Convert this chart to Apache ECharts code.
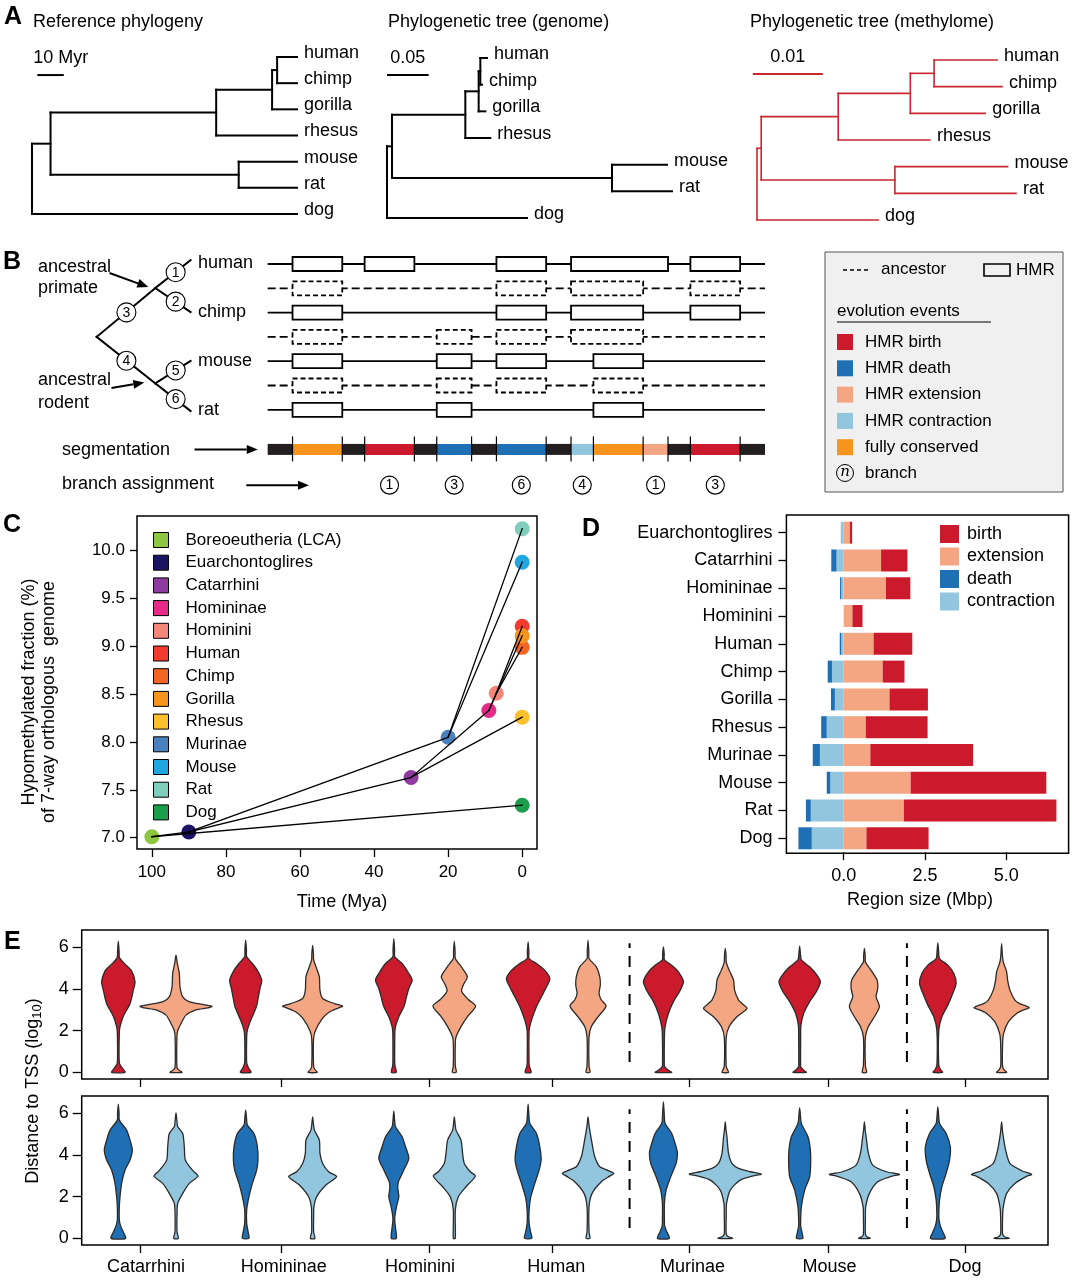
<!DOCTYPE html>
<html><head><meta charset="utf-8">
<script src="https://cdn.jsdelivr.net/npm/echarts@6.0.0/dist/echarts.min.js"></script>
<style>html,body{margin:0;padding:0;background:#fff}#c{width:1073px;height:1280px}</style>
</head><body><div id="c"></div>
<script>
// ================= DATA =================
// ---- Panel A: phylogenies (same topology, three branch-length sets) ----
const treeTips = ['human','chimp','gorilla','rhesus','mouse','rat','dog'];
const treeEdges = [['root','boreo'],['root','dog'],['boreo','primates'],['boreo','rodents'],['primates','apes'],['primates','rhesus'],['apes','hc'],['apes','gorilla'],['hc','human'],['hc','chimp'],['rodents','mouse'],['rodents','rat']];
const refBranchMyr   = [7, 100, 62.5, 71, 21.1, 30.5, 1.9, 9.4, 7.5, 7.5, 22, 22];
const genomeBranch   = [0.006, 0.168, 0.088, 0.264, 0.016, 0.030, 0.002, 0.008, 0.008, 0.002, 0.066, 0.072];
const methylomeBranch= [0.0006, 0.0173, 0.011, 0.0191, 0.0103, 0.0131, 0.0034, 0.0107, 0.009, 0.0097, 0.0161, 0.0173];
const scaleBarLengths = [10, 0.05, 0.01];
const scaleBarLabels  = ['10 Myr', '0.05', '0.01'];
const treeTitles = ['Reference phylogeny', 'Phylogenetic tree (genome)', 'Phylogenetic tree (methylome)'];

// ---- Panel B: schematic ----
const bRowLabels = ['human','ancestor','chimp','ancestor','mouse','ancestor','rat'];
const bRowIsAncestor = [0,1,0,1,0,1,0];
const bHMRs = [ // [row, start, end]
  [0,5,15],[0,19.5,29.5],[0,46,56],[0,61,80.5],[0,85,95],
  [1,5,15],[1,46,56],[1,61,75.5],[1,85,95],
  [2,5,15],[2,46,56],[2,61,75.5],[2,85,95],
  [3,5,15],[3,34,41],[3,46,56],[3,61,75.5],
  [4,5,15],[4,34,41],[4,46,56],[4,65.5,75.5],
  [5,5,15],[5,34,41],[5,46,56],[5,65.5,75.5],
  [6,5,15],[6,34,41],[6,65.5,75.5]];
const segBounds = [0,5,15,19.5,29.5,34,41,46,56,61,65.5,75.5,80.5,85,95,100];
const segClass  = ['none','conserved','none','birth','none','death','none','death','none','contraction','conserved','extension','none','birth','none'];
const branchAssign = [[24.5,1],[37.5,3],[51,6],[63.25,4],[78,1],[90,3]];
const schemNodes = {root:[-34.4,3.0], P:[-22.6,0.99], R:[-22.6,4.91], human:[-15.5,-0.16], chimp:[-15.5,1.98], mouse:[-15.5,3.99], rat:[-15.5,6.05]};
const schemEdges = [['root','P'],['P','human'],['P','chimp'],['root','R'],['R','mouse'],['R','rat']];
const schemBranches = [[-18.5,0.34,1],[-18.5,1.55,2],[-28.4,1.99,3],[-28.4,3.98,4],[-18.5,4.38,5],[-18.5,5.56,6]];
const bArrows = [[-31.8,0.37,-24.0,0.95],[-31.4,5.1,-24.8,4.88],[-14.7,7.63,-2.0,7.63],[-4.3,9.1,8.3,9.1]];
const bLegendEvents = ['HMR birth','HMR death','HMR extension','HMR contraction','fully conserved'];

// ---- Panel C ----
const cNodes = ['Boreoeutheria (LCA)','Euarchontoglires','Catarrhini','Homininae','Hominini','Human','Chimp','Gorilla','Rhesus','Murinae','Mouse','Rat','Dog'];
const cTime = [100, 90, 30, 9, 7, 0, 0, 0, 0, 20, 0, 0, 0];
const cFraction = [7.01, 7.06, 7.63, 8.33, 8.51, 9.21, 8.99, 9.11, 8.26, 8.05, 9.88, 10.23, 7.34];
const cEdges = [[0,1],[0,12],[1,2],[1,9],[2,8],[2,3],[3,7],[3,4],[4,5],[4,6],[9,10],[9,11]];
const cTicksX = [0,20,40,60,80,100];
const cTicksY = [7,7.5,8,8.5,9,9.5,10];

// ---- Panel D ----
const dClades = ['Euarchontoglires','Catarrhini','Homininae','Hominini','Human','Chimp','Gorilla','Rhesus','Murinae','Mouse','Rat','Dog'];
const dBirth       = [0.07, 0.81, 0.75, 0.31, 1.19, 0.67, 1.18, 1.90, 3.16, 4.17, 4.69, 1.91];
const dExtension   = [0.19, 1.15, 1.30, 0.27, 0.92, 1.20, 1.41, 0.68, 0.82, 2.06, 1.85, 0.70];
const dDeath       = [0.00, 0.16, 0.04, 0.00, 0.05, 0.13, 0.12, 0.17, 0.22, 0.11, 0.15, 0.41];
const dContraction = [0.09, 0.22, 0.07, 0.00, 0.07, 0.36, 0.27, 0.52, 0.73, 0.41, 1.01, 0.98];
const dTicksX = [0, 2.5, 5];

// ---- Panel E: violin density profiles [log10 distance, half-width density] ----
const eClades = ['Catarrhini','Homininae','Hominini','Human','Murinae','Mouse','Dog'];
const eCladeTicks = [6.03, 20.7, 36.0, 48.7, 62.9, 77.3, 91.4];
const eCladeLabelPos = [6.65, 20.9, 35.0, 49.1, 63.2, 77.4, 91.4];
const eGainPos = [3.79, 16.97, 32.3, 46.2, 60.2, 74.3, 88.6];
const eShiftPos = [9.76, 23.9, 38.56, 52.4, 66.6, 81.0, 95.2];
const eDividers = [56.7, 85.4];
const eTicksY = [0,2,4,6];
const eBirthProfiles = [
 [[0,6.7],[0.2,4],[0.45,1],[1.9,1],[2.2,1.7],[2.7,5],[3.3,11.7],[3.95,15],[4.35,16.7],[4.9,13],[5.2,6.7],[5.5,1.2],[5.8,0.8],[6.3,0]],
 [[0,5.3],[0.2,3],[0.45,1],[1.7,1],[2.03,1.7],[2.5,5],[3.15,10.7],[3.63,12.7],[4.03,14.3],[4.43,16],[4.9,11.7],[5.23,6.7],[5.55,1],[5.9,0.8],[6.35,0]],
 [[0,2.5],[0.3,1.2],[0.5,0.9],[1.87,1],[2.2,1.7],[2.67,5],[3.15,10],[3.63,12.7],[4.03,15],[4.43,18.3],[4.75,15],[5.23,8.3],[5.55,1],[5.9,0.8],[6.43,0]],
 [[0,3],[0.3,1.2],[0.5,0.9],[2.0,1],[2.5,3.3],[3.15,8.3],[3.63,13.3],[4.1,18.3],[4.5,21.7],[4.9,16.7],[5.23,8.3],[5.47,1],[5.8,0.8],[6.27,0]],
 [[0,8.3],[0.1,5],[0.25,1.5],[0.35,0.9],[1.7,1],[2.2,1.7],[2.83,5],[3.4,10],[3.87,16],[4.35,20],[4.83,15],[5.15,8.3],[5.4,1],[5.7,0.8],[6.03,0]],
 [[0,6.7],[0.1,4],[0.25,1.2],[0.35,0.9],[1.7,1],[2.27,1.3],[2.83,4],[3.4,10],[3.87,16.7],[4.35,20.7],[4.67,17.3],[5.07,10],[5.4,1.7],[5.7,0.8],[6.06,0]],
 [[0,4.7],[0.15,2.5],[0.35,0.9],[2.03,1],[2.67,4],[3.23,10],[3.8,15],[4.27,18.3],[4.75,16],[5.15,10],[5.47,1.7],[5.8,0.8],[6.22,0]]
];
const eExtensionProfiles = [
 [[0,6],[0.12,2.5],[0.25,0.9],[1.7,0.9],[2.0,1.7],[2.35,5],[2.75,10],[3.0,20],[3.1,32],[3.17,36],[3.25,28],[3.4,13],[3.63,6.7],[4.1,4],[4.75,3.3],[5.2,1.5],[5.4,0.8],[5.63,0]],
 [[0,4.5],[0.15,2],[0.3,0.9],[1.6,0.9],[2.0,2.7],[2.6,10],[2.9,16.7],[3.1,26],[3.18,30],[3.3,22],[3.55,10],[3.95,7.3],[4.6,6.7],[5.07,3.3],[5.4,1],[5.7,0.8],[6.1,0]],
 [[0,2],[0.3,1],[1.4,1],[1.7,1.7],[2.2,6.7],[2.67,13],[3.18,21.3],[3.5,14],[3.9,7.3],[4.2,9],[4.6,13],[5.07,7],[5.47,1],[5.8,0.8],[6.3,0]],
 [[0,2],[0.3,1],[1.7,1],[2.2,3.3],[2.67,10],[3.18,18],[3.5,13],[3.8,11],[4.2,12.3],[4.6,11.7],[5.07,8.3],[5.47,1],[5.8,0.8],[6.35,0]],
 [[0,3.3],[0.15,2],[0.3,0.9],[1.7,1],[2.2,4],[2.67,11.7],[3.07,21.7],[3.3,17],[3.47,13.3],[3.95,9.3],[4.43,8.3],[4.9,4],[5.3,1],[5.6,0.8],[5.95,0]],
 [[0,2.2],[0.3,1],[1.7,1],[2.2,4],[2.67,10],[3.15,15],[3.63,11.7],[4.03,13.3],[4.43,12.7],[4.9,6.7],[5.3,1],[5.6,0.8],[5.95,0]],
 [[0,5],[0.12,2.5],[0.3,0.9],[1.4,1],[1.87,2],[2.43,6.7],[2.83,15],[3.0,22],[3.1,27.7],[3.2,24],[3.3,18],[3.47,13.3],[3.95,8.3],[4.43,6],[4.83,5],[5.3,1.7],[5.6,0.8],[6.19,0]]
];
const eDeathProfiles = [
 [[0,7.3],[0.3,5],[0.6,2.3],[0.88,1],[1.52,1],[2.0,1.7],[2.64,3.3],[3.28,6.7],[3.76,11.7],[4.24,14],[4.72,11.7],[5.2,8.3],[5.68,1],[6.0,0.8],[6.45,0]],
 [[0,3.3],[0.3,2.5],[0.72,1],[1.36,1],[2.0,3.3],[2.64,6.7],[3.28,11],[3.76,12.3],[4.4,11.7],[5.04,8.3],[5.44,1.7],[5.8,0.8],[6.16,0]],
 [[0,2.5],[0.4,2],[0.8,1],[1.04,1],[1.52,2.7],[2.0,5],[2.4,4],[2.7,4.5],[3.28,10],[3.84,15],[4.4,11.7],[4.88,8.3],[5.36,1.7],[5.7,0.8],[6.11,0]],
 [[0,3.7],[0.3,2.5],[0.72,1],[1.36,1],[2.0,2.7],[2.64,6.7],[3.28,11],[3.76,13],[4.4,11.7],[5.04,8.3],[5.52,1.7],[5.9,0.8],[6.45,0]],
 [[0,6],[0.3,3.5],[0.6,1.2],[0.88,1],[1.68,1],[2.32,2.7],[2.96,7.3],[3.6,12.7],[4.08,14],[4.4,12.7],[5.04,8.3],[5.52,1.7],[6.0,0.8],[6.56,0]],
 [[0,3.2],[0.3,2.2],[0.6,1],[0.88,1],[1.52,1.7],[2.32,5],[2.96,10],[3.6,11],[4.24,10.7],[4.88,8.3],[5.52,1.7],[5.9,0.8],[6.27,0]],
 [[0,7.3],[0.3,5],[0.6,2.5],[0.9,1.2],[1.2,1],[1.84,1.7],[2.48,4],[3.12,8.3],[3.76,11.7],[4.4,12.5],[5.04,8.3],[5.52,1.7],[5.9,0.8],[6.32,0]]
];
const eContractionProfiles = [
 [[0,2.3],[0.3,1],[1.2,1],[1.68,1.7],[2.16,6.7],[2.64,13.3],[2.99,22],[3.2,18],[3.36,15],[3.76,9.3],[4.4,8.3],[5.04,6.7],[5.36,1.7],[5.7,0.8],[6.03,0]],
 [[0,2.3],[0.3,1],[1.04,1],[1.52,1.3],[2.0,4],[2.56,13.3],[2.96,24],[3.2,16],[3.6,10],[4.08,7.3],[4.72,6.7],[5.2,1.7],[5.5,0.8],[5.84,0]],
 [[0,1],[1.36,1],[2.0,4],[2.48,11.7],[2.99,21],[3.2,16],[3.6,10],[4.08,8.3],[4.72,6.7],[5.2,1.7],[5.5,0.8],[5.84,0]],
 [[0,2],[0.3,1],[1.52,1],[2.16,4],[2.72,13.3],[3.0,22],[3.12,25.7],[3.3,18],[3.44,11.7],[3.92,6.7],[4.56,4],[5.2,1.7],[5.5,0.8],[5.84,0]],
 [[0,7.3],[0.08,3],[0.2,1],[1.2,1],[1.68,1.3],[2.32,5],[2.8,15],[3.0,28],[3.09,36],[3.2,25],[3.36,13.3],[3.6,6.7],[4.08,3.3],[4.88,1.7],[5.2,0.8],[5.6,0]],
 [[0,5.8],[0.08,2.5],[0.2,1],[1.04,1],[1.52,1.3],[2.16,5],[2.72,13.3],[2.98,27],[3.07,35],[3.2,22],[3.52,8.3],[4.08,4],[4.88,1.7],[5.2,0.8],[5.6,0]],
 [[0,7.5],[0.08,3],[0.2,1],[1.04,1],[1.52,1.7],[2.16,5],[2.64,13.3],[2.98,25],[3.07,30],[3.25,20],[3.6,8.3],[4.24,4],[4.88,1.7],[5.2,0.8],[5.6,0]]
];

// ================= STYLE =================
const FONT = '"Liberation Sans", Arial, Helvetica, sans-serif';
const COL = {birth:'#cb1a2c', extension:'#f4a582', death:'#1f6fb4', contraction:'#92c5de', conserved:'#f7941d', none:'#231f20'};
const cColors = ['#8dc63f','#1b1464','#8e3a9f','#e7298a','#f4877a','#f23b2f','#f26522','#f7941d','#fcc02c','#4a82bf','#1ea7e1','#7fcdbb','#1b9e4b'];
const METHYL_RED = '#c8282e';
const VIOLIN_UNIT = 0.1035;   // x-axis units per density unit (panel E)
const evColors = [COL.birth, COL.death, COL.extension, COL.contraction, COL.conserved];

// ================= HELPERS =================
function layoutTree(lengths) {
  const children = {}, len = {};
  treeEdges.forEach(([p, c], i) => { (children[p] = children[p] || []).push(c); len[c] = lengths[i]; });
  const X = { root: 0 }, Y = {};
  (function setX(n) { (children[n] || []).forEach(c => { X[c] = X[n] + len[c]; setX(c); }); })('root');
  (function setY(n) {
    if (!children[n]) return (Y[n] = treeTips.indexOf(n));
    const ys = children[n].map(setY);
    return (Y[n] = (Math.min(...ys) + Math.max(...ys)) / 2);
  })('root');
  const segs = [];
  Object.keys(children).forEach(n => {
    const ys = children[n].map(c => Y[c]);
    segs.push([X[n], Math.min(...ys), X[n], Math.max(...ys)]);
    children[n].forEach(c => segs.push([X[n], Y[c], X[c], Y[c]]));
  });
  return { segs, tips: treeTips.map(t => [X[t], Y[t]]) };
}
function txtStyle(text, size, align, extra) {
  return Object.assign({ text, fill: '#000', fontSize: size, fontFamily: FONT, align: align, verticalAlign: 'middle', textAlign: align, textVerticalAlign: 'middle' }, extra || {});
}
function segSeries(g, segs, color, width, z) {
  return { type: 'custom', xAxisIndex: g, yAxisIndex: g, data: segs, silent: true, z: z || 2,
    renderItem: (p, api) => {
      const a = api.coord([api.value(0), api.value(1)]), b = api.coord([api.value(2), api.value(3)]);
      return { type: 'line', shape: { x1: a[0], y1: a[1], x2: b[0], y2: b[1] }, style: { stroke: color, lineWidth: width, lineCap: 'square' } };
    } };
}
const treeLayouts = [layoutTree(refBranchMyr), layoutTree(genomeBranch), layoutTree(methylomeBranch)];
const treeColors = ['#000', '#000', METHYL_RED];
const scaleBarAnchor = [[2, 0.69], [0, 0.64], [-0.0006, 0.525]];   // layout
const scaleAlign = ['left', 'center', 'center'];

const series = [];
treeLayouts.forEach((t, g) => {
  series.push(segSeries(g, t.segs, treeColors[g], g === 2 ? 1.6 : 2));
  series.push({ type: 'custom', xAxisIndex: g, yAxisIndex: g, data: t.tips, silent: true,
    renderItem: (p, api) => {
      const c = api.coord([api.value(0), api.value(1)]);
      return { type: 'text', x: c[0] + 7, y: c[1] - 4, style: txtStyle(treeTips[p.dataIndex], 18, 'left') };
    } });
  series.push({ type: 'custom', xAxisIndex: g, yAxisIndex: g, data: [[scaleBarAnchor[g][0], scaleBarAnchor[g][1], scaleBarAnchor[g][0] + scaleBarLengths[g]]], silent: true,
    renderItem: (p, api) => {
      const a = api.coord([api.value(0), api.value(1)]), b = api.coord([api.value(2), api.value(1)]);
      const tx = scaleAlign[g] === 'left' ? a[0] - 4 : (a[0] + b[0]) / 2;
      return { type: 'group', children: [
        { type: 'line', shape: { x1: a[0], y1: a[1], x2: b[0], y2: b[1] }, style: { stroke: treeColors[g], lineWidth: 2 } },
        { type: 'text', x: tx, y: a[1] - 17, style: txtStyle(scaleBarLabels[g], 18, scaleAlign[g]) } ] };
    } });
});

// ---- Panel B series (grid 3) ----
series.push({ type: 'custom', xAxisIndex: 3, yAxisIndex: 3, silent: true, data: bRowIsAncestor.map((a, i) => [i, a]),
  renderItem: (p, api) => {
    const a = api.coord([0, api.value(0)]), b = api.coord([100, api.value(0)]);
    const st = { stroke: '#000', lineWidth: 1.8 }; if (api.value(1)) st.lineDash = [8, 4];
    return { type: 'line', shape: { x1: a[0], y1: a[1], x2: b[0], y2: b[1] }, style: st };
  } });
series.push({ type: 'custom', xAxisIndex: 3, yAxisIndex: 3, silent: true, z: 3, data: bHMRs,
  renderItem: (p, api) => {
    const r = bHMRs[p.dataIndex];
    const a = api.coord([r[1], r[0]]), b = api.coord([r[2], r[0]]);
    const st = { fill: '#fff', stroke: '#000', lineWidth: 1.8 }; if (bRowIsAncestor[r[0]]) st.lineDash = [5, 3];
    return { type: 'rect', shape: { x: a[0], y: a[1] - 7, width: b[0] - a[0], height: 14 }, style: st };
  } });
series.push({ type: 'custom', xAxisIndex: 3, yAxisIndex: 3, silent: true, data: segClass.map((c, i) => [segBounds[i], segBounds[i + 1]]),
  renderItem: (p, api) => {
    const a = api.coord([api.value(0), 7.63]), b = api.coord([api.value(1), 7.63]);
    return { type: 'rect', shape: { x: a[0], y: a[1] - 5.5, width: b[0] - a[0], height: 11 }, style: { fill: COL[segClass[p.dataIndex]] } };
  } });
series.push({ type: 'custom', xAxisIndex: 3, yAxisIndex: 3, silent: true, z: 3, data: segBounds.slice(1, -1).map(v => [v]),
  renderItem: (p, api) => {
    const a = api.coord([api.value(0), 7.63]);
    return { type: 'line', shape: { x1: a[0], y1: a[1] - 13, x2: a[0], y2: a[1] + 12 }, style: { stroke: '#000', lineWidth: 1.2 } };
  } });
series.push({ type: 'custom', xAxisIndex: 3, yAxisIndex: 3, silent: true, data: branchAssign,
  renderItem: (p, api) => {
    const a = api.coord([api.value(0), 9.1]);
    return { type: 'group', children: [
      { type: 'circle', shape: { cx: a[0], cy: a[1], r: 9 }, style: { fill: '#fff', stroke: '#000', lineWidth: 1.1 } },
      { type: 'text', x: a[0], y: a[1] + 0.5, style: txtStyle(String(api.value(1)), 14, 'center') } ] };
  } });
series.push(segSeries(3, schemEdges.map(([a, b]) => [schemNodes[a][0], schemNodes[a][1], schemNodes[b][0], schemNodes[b][1]]), '#000', 2));
series.push({ type: 'custom', xAxisIndex: 3, yAxisIndex: 3, silent: true, z: 4, data: schemBranches,
  renderItem: (p, api) => {
    const a = api.coord([api.value(0), api.value(1)]);
    return { type: 'group', children: [
      { type: 'circle', shape: { cx: a[0], cy: a[1], r: 9.5 }, style: { fill: '#fff', stroke: '#000', lineWidth: 1.1 } },
      { type: 'text', x: a[0], y: a[1] + 0.5, style: txtStyle(String(api.value(2)), 14, 'center') } ] };
  } });
series.push({ type: 'custom', xAxisIndex: 3, yAxisIndex: 3, silent: true, z: 4, data: bArrows,
  renderItem: (p, api) => {
    const a = api.coord([api.value(0), api.value(1)]), b = api.coord([api.value(2), api.value(3)]);
    const ang = Math.atan2(b[1] - a[1], b[0] - a[0]), L = 11, W = 4.5;
    const bx = b[0] - L * Math.cos(ang), by = b[1] - L * Math.sin(ang);
    const px = -Math.sin(ang) * W, py = Math.cos(ang) * W;
    return { type: 'group', children: [
      { type: 'line', shape: { x1: a[0], y1: a[1], x2: bx, y2: by }, style: { stroke: '#000', lineWidth: 2 } },
      { type: 'polygon', shape: { points: [[b[0], b[1]], [bx + px, by + py], [bx - px, by - py]] }, style: { fill: '#000' } } ] };
  } });

// ---- Panel C (grid 4) ----
cNodes.forEach((n, i) => series.push({ type: 'scatter', name: n, xAxisIndex: 4, yAxisIndex: 4, data: [[cTime[i], cFraction[i]]],
  symbolSize: 15, itemStyle: { color: cColors[i], opacity: 1 }, z: 2, silent: true }));
series.push(segSeries(4, cEdges.map(([a, b]) => [cTime[a], cFraction[a], cTime[b], cFraction[b]]), '#000', 1.3, 5));

// ---- Panel D (grid 5) ----
[['extension', dExtension, 1], ['birth', dBirth, 1], ['contraction', dContraction, -1], ['death', dDeath, -1]].forEach(([n, arr, s]) =>
  series.push({ type: 'bar', name: n, xAxisIndex: 5, yAxisIndex: 5, stack: 'd', barWidth: 22, silent: true,
    data: arr.map(v => s * v), itemStyle: { color: COL[n] } }));

// ---- Panel E (grids 6,7) ----
function violinSeries(g, positions, profiles, color) {
  return { type: 'custom', xAxisIndex: g, yAxisIndex: g, silent: true, data: positions.map((p, i) => [p, i]),
    renderItem: (p, api) => {
      const prof = profiles[p.dataIndex], cx = api.value(0);
      const pts = [];
      prof.forEach(([y, d]) => { const c = api.coord([cx, y]); pts.push([c[0] + api.size([d * VIOLIN_UNIT, 0])[0], c[1]]); });
      for (let k = prof.length - 1; k >= 0; k--) {
        const [y, d] = prof[k]; if (d === 0) continue;
        const c = api.coord([cx, y]); pts.push([c[0] - api.size([d * VIOLIN_UNIT, 0])[0], c[1]]);
      }
      return { type: 'polygon', shape: { points: pts, smooth: 0.25 }, style: { fill: color, stroke: '#2b2b2b', lineWidth: 1.3 } };
    } };
}
series.push(violinSeries(6, eGainPos, eBirthProfiles, COL.birth));
series.push(violinSeries(6, eShiftPos, eExtensionProfiles, COL.extension));
series.push(violinSeries(7, eGainPos, eDeathProfiles, COL.death));
series.push(violinSeries(7, eShiftPos, eContractionProfiles, COL.contraction));
[6, 7].forEach(g => series.push({ type: 'custom', xAxisIndex: g, yAxisIndex: g, silent: true, data: eDividers.map(v => [v, 0.5, 6.2]),
  renderItem: (p, api) => {
    const a = api.coord([api.value(0), api.value(1)]), b = api.coord([api.value(0), api.value(2)]);
    return { type: 'line', shape: { x1: a[0], y1: a[1], x2: b[0], y2: b[1] }, style: { stroke: '#000', lineWidth: 2, lineDash: [11, 8] } };
  } }));

// ================= AXES =================
const hid = (g, min, max, extra) => Object.assign({ gridIndex: g, type: 'value', min, max, show: false }, extra || {});
const lab = (size, margin, extra) => Object.assign({ fontSize: size, color: '#000', fontFamily: FONT, margin }, extra || {});
const tick = (len, vals) => { const t = { show: true, inside: false, length: len, lineStyle: { color: '#000', width: 1.3 } }; if (vals) t.customValues = vals; return t; };
const noLine = { show: false, onZero: false };
const xAxis = [
  hid(0, 0, 100), hid(1, 0, 0.36), hid(2, -0.001, 0.039), hid(3, -50, 100),
  { gridIndex: 4, type: 'value', min: -4, max: 104, inverse: true, axisLine: noLine, splitLine: { show: false },
    axisTick: tick(8, cTicksX), axisLabel: lab(17, 15, { customValues: cTicksX }) },
  { gridIndex: 5, type: 'value', min: -1.76, max: 6.915, axisLine: noLine, splitLine: { show: false },
    axisTick: tick(8, dTicksX), axisLabel: lab(18, 15, { customValues: dTicksX, formatter: v => v.toFixed(1) }) },
  { gridIndex: 6, type: 'value', min: 0, max: 100, axisLine: noLine, splitLine: { show: false },
    axisTick: tick(8, eCladeTicks), axisLabel: { show: false } },
  { gridIndex: 7, type: 'value', min: 0, max: 100, axisLine: noLine, splitLine: { show: false },
    axisTick: tick(8, eCladeTicks), axisLabel: lab(18, 13, { customValues: eCladeLabelPos,
      formatter: v => { let bi = 0; eCladeLabelPos.forEach((t, i) => { if (Math.abs(t - v) < Math.abs(eCladeLabelPos[bi] - v)) bi = i; }); return eClades[bi]; } }) }
];
const yAxis = [
  hid(0, 0, 6, { inverse: true }), hid(1, 0, 6, { inverse: true }), hid(2, 0, 6, { inverse: true }), hid(3, -1, 10, { inverse: true }),
  { gridIndex: 4, type: 'value', min: 6.882, max: 10.363, axisLine: noLine, splitLine: { show: false },
    axisTick: tick(7, cTicksY), axisLabel: lab(17, 12, { customValues: cTicksY, formatter: v => v.toFixed(1) }) },
  { gridIndex: 5, type: 'category', data: dClades, inverse: true, axisLine: noLine,
    axisTick: Object.assign(tick(8), { alignWithLabel: true }), axisLabel: lab(18, 14) },
  { gridIndex: 6, type: 'value', min: -0.32, max: 6.84, axisLine: noLine, splitLine: { show: false },
    axisTick: tick(9, eTicksY), axisLabel: lab(18, 13, { customValues: eTicksY }) },
  { gridIndex: 7, type: 'value', min: -0.32, max: 6.84, axisLine: noLine, splitLine: { show: false },
    axisTick: tick(9, eTicksY), axisLabel: lab(18, 13, { customValues: eTicksY }) }
];
const border = { show: true, borderColor: '#000', borderWidth: 1.5, backgroundColor: 'transparent' };
const grid = [
  { left: 32, top: 57, width: 265, height: 157 },
  { left: 387, top: 58, width: 300, height: 160 },
  { left: 750, top: 60, width: 280, height: 160 },
  { left: 19, top: 239.7, width: 746, height: 267.3 },
  Object.assign({ left: 137, top: 516, width: 400, height: 333 }, border),
  { left: 786.4, top: 518.8, width: 282.2, height: 333.4 },
  Object.assign({ left: 81.7, top: 930, width: 966.3, height: 149 }, border),
  Object.assign({ left: 81.7, top: 1096, width: 966.3, height: 149 }, border)
];

// ================= GRAPHIC TEXT =================
const T = (text, x, y, size, align, extra, rot) => ({ type: 'text', x, y, rotation: rot || 0, z: 100, silent: true, style: txtStyle(text, size, align, extra) });
const bold = { fontWeight: 'bold' };
const g = [
  T('A', 4, 17, 25, 'left', bold), T('B', 3, 262, 25, 'left', bold), T('C', 3, 525, 25, 'left', bold),
  T('D', 582, 529, 25, 'left', bold), T('E', 4, 942, 25, 'left', bold),
  T(treeTitles[0], 33, 22, 18, 'left'), T(treeTitles[1], 388, 22, 18, 'left'), T(treeTitles[2], 750, 22, 18, 'left'),
  // panel B labels
  T('ancestral', 38, 267, 18, 'left'), T('primate', 38, 288, 18, 'left'),
  T('ancestral', 38, 380, 18, 'left'), T('rodent', 38, 403, 18, 'left'),
  T(bRowLabels[0], 198, 263, 18, 'left'), T(bRowLabels[2], 198, 312, 18, 'left'),
  T(bRowLabels[4], 198, 361, 18, 'left'), T(bRowLabels[6], 198, 410, 18, 'left'),
  T('segmentation', 62, 450, 18, 'left'), T('branch assignment', 62, 484, 18, 'left'),
  // panel B legend box
  { type: 'rect', z: 90, silent: true, shape: { x: 825, y: 252, width: 238, height: 240 }, style: { fill: '#f0f0f0', stroke: '#555', lineWidth: 1 } },
  { type: 'line', z: 95, silent: true, shape: { x1: 843, y1: 270, x2: 871, y2: 270 }, style: { stroke: '#000', lineWidth: 1.6, lineDash: [4, 3] } },
  T('ancestor', 881, 269, 17, 'left'),
  { type: 'rect', z: 95, silent: true, shape: { x: 984, y: 264, width: 26, height: 12 }, style: { fill: 'none', stroke: '#000', lineWidth: 1.6 } },
  T('HMR', 1016, 270, 17, 'left'),
  T('evolution events', 837, 311, 17, 'left'),
  { type: 'line', z: 95, silent: true, shape: { x1: 837, y1: 322, x2: 991, y2: 322 }, style: { stroke: '#000', lineWidth: 1 } },
  { type: 'circle', z: 95, silent: true, shape: { cx: 845, cy: 473, r: 8.5 }, style: { fill: 'none', stroke: '#000', lineWidth: 1 } },
  T('n', 845, 472, 15, 'center', { fontStyle: 'italic', fontFamily: '"DejaVu Serif", serif' }),
  T('branch', 865, 473, 17, 'left'),
  // panel C / D / E axis titles
  T('Hypomethylated fraction (%)', 29, 692, 18, 'center', null, Math.PI / 2),
  T('of 7-way orthologous  genome', 49, 702, 18, 'center', null, Math.PI / 2),
  T('Time (Mya)', 342, 902, 18, 'center'),
  T('Region size (Mbp)', 920, 900, 18, 'center'),
  { type: 'rect', z: 50, silent: true, shape: { x: 786.4, y: 515, width: 282.2, height: 338.3 }, style: { fill: 'none', stroke: '#000', lineWidth: 1.5 } },
  { type: 'text', x: 33, y: 1091, rotation: Math.PI / 2, z: 100, silent: true,
    style: { text: '{a|Distance to TSS (log}{s|10}{a|)}', align: 'center', verticalAlign: 'middle', textAlign: 'center', textVerticalAlign: 'middle', fill: '#000',
      rich: { a: { fontSize: 18, fontFamily: FONT, lineHeight: 22, fill: '#000' }, s: { fontSize: 13, fontFamily: FONT, lineHeight: 22, verticalAlign: 'bottom', padding: [9, 0, 0, 0], fill: '#000' } } } }
];
bLegendEvents.forEach((n, i) => {
  const y = 342 + i * 26.3;
  g.push({ type: 'rect', z: 95, silent: true, shape: { x: 837, y: y - 8, width: 16, height: 16 }, style: { fill: evColors[i] } });
  g.push(T(n, 865, y, 17, 'left'));
});

// ================= CHART =================
const chart = echarts.init(document.getElementById('c'), null, { renderer: 'canvas' });
chart.setOption({
  animation: false, backgroundColor: '#fff', textStyle: { fontFamily: FONT },
  grid, xAxis, yAxis, series,
  legend: [
    { left: 153, top: 531.5, orient: 'vertical', padding: 0, itemWidth: 15, itemHeight: 15, itemGap: 5.7, icon: 'rect', selectedMode: false,
      data: cNodes.map((n, i) => ({ name: n, itemStyle: { color: cColors[i], borderColor: '#000', borderWidth: 1 } })),
      textStyle: { fontSize: 17, fontFamily: FONT, color: '#000', lineHeight: 15, padding: [0, 0, 0, 12] } },
    { left: 940, top: 525, orient: 'vertical', padding: 0, itemWidth: 19, itemHeight: 18, itemGap: 4.5, icon: 'rect', selectedMode: false,
      data: ['birth', 'extension', 'death', 'contraction'],
      textStyle: { fontSize: 18, fontFamily: FONT, color: '#000', lineHeight: 18, padding: [0, 0, 0, 3] } }
  ],
  graphic: { elements: g }
});
</script></body></html>
